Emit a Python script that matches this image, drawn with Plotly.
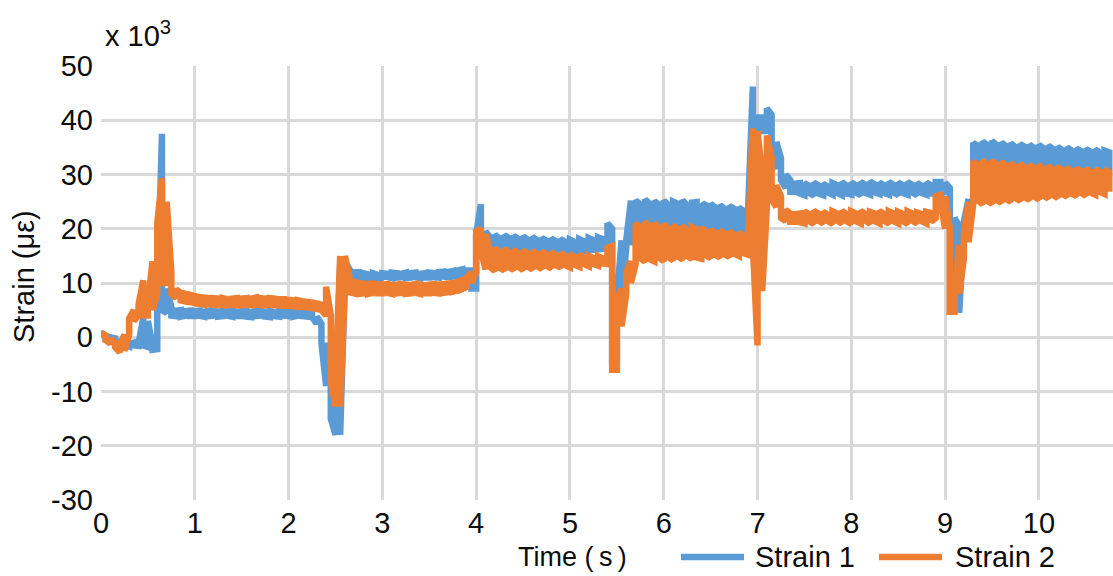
import plotly.graph_objects as go

# sample times (s), 0.05 s step; each sample holds the low/high of the noisy trace in that interval
time_s = [round(i * 0.05, 2) for i in range(216)]

# Strain 1 (x10^3 µε): envelope per sample
strain1_low = [
    0, -0.5, -0.8, -0.8, -1.4, -1.4, -1.7, -1.5, -1.6, -1.5,
    -1.8, -2.3, -2.2, 5, 4.5, 4.0, 3.9, 3.8, 4.0, 3.9,
    3.9, 4.0, 3.8, 3.9, 4.0, 3.8, 3.9, 4.0, 3.8, 3.9,
    3.9, 3.8, 3.7, 3.9, 4.0, 3.8, 3.7, 3.9, 3.8, 4.0,
    3.9, 3.8, 4.0, 3.9, 3.8, 3.7, 2.5, -1, -9, -15,
    -18, -18, 10.5, 10.8, 10.5, 10.3, 10.4, 10.5, 10.3, 10.4,
    11.0, 11.1, 10.9, 11.0, 11.1, 10.9, 11.0, 11.1, 10.9, 11.0,
    11.0, 11.1, 11.0, 11.2, 11.1, 11.2, 11.3, 11.2, 11.3, 9,
    9, 17, 17, 16.3, 16.5, 16.2, 16.4, 16.3, 16.4, 16.2,
    16.1, 16.0, 16.0, 15.9, 15.8, 15.9, 15.7, 15.8, 15.7, 15.8,
    15.7, 15.8, 15.8, 15.9, 16.0, 16.1, 16.2, 16.3, 16.4, -4.5,
    -4.5, 6.8, 16.5, 17, 21.5, 21.2, 21.0, 20.8, 20.7, 20.6,
    20.5, 20.4, 20.4, 20.3, 20.3, 20.2, 20.2, 20.1, 20.1, 20.0,
    20.0, 19.9, 19.9, 19.8, 19.8, 19.7, 19.7, 19.6, 19.6, 19.6,
    38.5, 38, 38, 34, 31, 29, 27.5, 26.8, 26.8, 26.5,
    26.2, 26.6, 26.1, 26.5, 26.2, 26.7, 26.3, 26.6, 26.2, 26.5,
    26.3, 26.7, 26.2, 26.6, 26.3, 26.7, 26.4, 26.6, 26.3, 26.7,
    26.2, 26.6, 26.3, 26.7, 26.2, 26.6, 26.3, 26.5, 26.5, 27,
    26.5, 22, 4.5, 4.5, 19.7, 21, 25, 32.0, 31.8, 32.0,
    31.9, 31.8, 31.8, 31.7, 31.7, 31.6, 31.6, 31.5, 31.5, 31.4,
    31.4, 31.3, 31.3, 31.2, 31.2, 31.1, 31.1, 31.0, 31.0, 30.9,
    30.9, 30.8, 30.8, 30.8, 30.7, 30.7,
]
strain1_high = [
    0.8, 0.3, 0, -0.2, -0.8, -0.8, -1.2, -1.0, -1.2, 3.5,
    3.0, -1.5, 6.5, 37.5, 9, 5.5, 4.9, 5.0, 4.8, 4.9,
    4.8, 4.9, 4.7, 4.9, 4.8, 4.7, 4.9, 4.8, 4.9, 4.7,
    4.8, 4.9, 4.6, 4.8, 4.9, 4.7, 4.8, 4.6, 4.8, 4.9,
    4.8, 4.7, 4.8, 4.7, 4.6, 4.5, 3.8, 2.5, -1, -8,
    -14, 13.5, 14, 12.5, 12.0, 12.0, 11.8, 11.6, 11.8, 11.5,
    11.8, 11.7, 11.9, 11.8, 11.7, 11.9, 11.8, 11.9, 11.7, 11.8,
    11.9, 11.8, 12.0, 12.1, 12.0, 12.2, 12.3, 12.5, 12.3, 12.3,
    19, 24.5, 19.5, 18.4, 18.9, 18.2, 18.8, 18.3, 18.7, 18.1,
    18.6, 18.0, 18.5, 17.9, 18.3, 17.8, 18.2, 17.7, 18.1, 17.6,
    18.0, 17.6, 18.1, 17.7, 18.3, 17.9, 18.4, 18.1, 21, 20,
    7, 17.9, 17.9, 25.2, 25.2, 24.5, 25.4, 24.6, 25.1, 24.4,
    25.2, 24.3, 25.0, 24.6, 25.3, 24.2, 24.8, 24.9, 24.1, 24.7,
    24.6, 23.9, 24.4, 23.6, 24.2, 23.7, 23.9, 23.3, 23.8, 46.2,
    40.5, 40.5, 42.2, 41, 36, 33, 30, 29, 28.3, 28.4,
    28.4, 27.9, 28.5, 28.0, 28.3, 27.8, 28.4, 28.0, 28.6, 27.9,
    28.5, 28.0, 28.6, 28.1, 28.7, 28.2, 28.5, 28.0, 28.6, 28.1,
    28.5, 28.0, 28.6, 28.1, 28.4, 27.9, 28.5, 28.0, 28.6, 28.6,
    28.5, 27.5, 22, 20.5, 21.3, 25.5, 35.8, 35.3, 36.1, 35.4,
    36.2, 35.4, 35.9, 35.2, 35.8, 35.0, 35.6, 35.1, 35.5, 34.9,
    35.5, 34.8, 35.3, 34.7, 35.1, 34.5, 35.0, 34.4, 34.8, 34.3,
    34.7, 34.2, 34.6, 34.0, 34.4, 34.1,
]

# Strain 2 (x10^3 µε): envelope per sample
strain2_low = [
    0, -0.5, -1.2, -1.8, -2.8, -2.5, 0.5, 3, 4, 4,
    4, 5, 8, 10, 10, 8, 7.2, 6.8, 6.6, 6.5,
    6.3, 6.2, 6.0, 6.1, 6.0, 5.9, 6.0, 5.9, 6.0, 5.9,
    5.9, 6.0, 5.9, 6.0, 6.0, 5.9, 6.0, 5.9, 5.9, 5.8,
    5.8, 5.7, 5.6, 5.6, 5.5, 5.4, 5.2, 5.0, 4, -8,
    -12.8, -12.8, 9, 8.3, 8.1, 8.0, 8.1, 8.0, 8.2, 8.1,
    8.1, 8.2, 8.0, 8.1, 8.2, 8.0, 8.1, 8.2, 8.0, 8.1,
    8.1, 8.2, 8.1, 8.2, 8.3, 8.4, 8.6, 8.9, 9.3, 10,
    12, 16, 12.5, 12.9, 12.2, 12.8, 12.3, 12.9, 12.4, 13.0,
    12.4, 13.0, 12.5, 13.1, 12.6, 13.2, 12.7, 13.3, 12.8, 13.3,
    12.9, 13.4, 13.0, 13.5, 13.1, 13.5, 13.2, 13.6, 13.5, -6,
    -6, 2, 8, 10, 13.5, 14.6, 13.9, 14.4, 14.0, 14.7,
    14.0, 14.8, 14.2, 14.9, 14.3, 15.0, 14.4, 14.7, 14.5, 15.1,
    14.6, 15.2, 14.7, 15.3, 14.8, 15.4, 15.0, 15.5, 15.2, 17,
    -1.5, 8.5, 24, 25.5, 24, 22, 21.4, 21.3, 21.3, 21.2,
    21.0, 21.4, 20.9, 21.5, 21.0, 21.4, 20.9, 21.5, 21.0, 21.4,
    20.9, 21.4, 21.0, 21.5, 20.9, 21.4, 21.0, 21.5, 20.9, 21.4,
    21.0, 21.4, 20.9, 21.5, 21.0, 21.4, 21.0, 21.3, 22, 25,
    20, 4.7, 4.7, 8, 14.5, 17.5, 24.6, 25.2, 24.5, 25.1,
    24.6, 25.3, 24.8, 25.5, 25.0, 25.7, 25.1, 25.8, 25.3, 26.0,
    25.4, 26.1, 25.6, 26.2, 25.7, 26.4, 25.9, 26.5, 26.0, 26.6,
    26.1, 26.7, 26.3, 26.8, 26.4, 26.8,
]
strain2_high = [
    0.8, 0.3, -0.3, -1.0, -1.5, 0.5, 3.5, 5, 6, 10.5,
    6.5, 14, 21, 29.3, 25, 12, 8.8, 8.2, 8.0, 7.8,
    7.6, 7.4, 7.3, 7.2, 7.2, 7.1, 7.2, 7.0, 7.1, 7.2,
    7.1, 7.2, 7.1, 7.3, 7.2, 7.1, 7.2, 7.1, 7.0, 7.0,
    6.9, 6.8, 6.8, 6.6, 6.5, 6.4, 6.2, 6.0, 9.3, 4,
    -8, 15, 15, 11, 10.2, 10.0, 9.9, 9.8, 9.9, 9.8,
    9.7, 9.8, 9.6, 9.7, 9.8, 9.7, 9.6, 9.8, 9.7, 9.6,
    9.7, 9.8, 9.7, 9.8, 9.9, 10.0, 10.2, 10.5, 11, 12,
    19.5, 20, 19, 15.8, 16.4, 15.7, 16.3, 15.6, 16.1, 15.5,
    16.0, 15.4, 15.9, 15.3, 15.8, 15.2, 15.7, 15.1, 15.5, 15.0,
    15.3, 14.8, 15.2, 14.7, 15.0, 14.6, 14.9, 14.5, 16.5, 16.8,
    7, 9, 12, 14, 21, 20.2, 21.3, 20.4, 21.1, 20.0,
    20.9, 19.8, 20.6, 20.0, 20.5, 19.6, 20.3, 19.9, 20.2, 19.4,
    19.8, 19.2, 19.7, 19.0, 19.5, 18.9, 19.3, 18.7, 18.8, 38.5,
    38, 30, 37.2, 33, 28, 26, 23.5, 22.8, 22.7, 22.8,
    23.2, 22.7, 23.3, 22.8, 23.1, 22.6, 23.2, 22.8, 23.3, 22.7,
    23.2, 22.8, 23.3, 22.7, 23.1, 22.8, 23.3, 22.7, 23.2, 22.8,
    23.1, 22.7, 23.2, 22.8, 23.0, 22.7, 23.1, 22.9, 26, 26.2,
    26, 20, 8, 17, 19, 25, 32.4, 31.7, 32.6, 31.8,
    32.6, 31.6, 32.4, 31.5, 32.1, 31.3, 32.0, 31.2, 31.8, 31.1,
    31.8, 30.9, 31.6, 30.8, 31.5, 30.7, 31.3, 30.6, 31.2, 30.5,
    31.1, 30.4, 31.0, 30.3, 30.9, 30.4,
]

x_ticks = list(range(0, 11))
y_tick_vals = [-30, -20, -10, 0, 10, 20, 30, 40, 50]
y_tick_text = ["-30", "-20", "-10", "0", "10", "20", "30", "40", "50"]
series_names = ["Strain 1", "Strain 2"]

FONT = "Liberation Sans, Arial, sans-serif"
BLUE = "#5B9BD5"
ORANGE = "#ED7D31"
GRID = "#d9d9d9"
TXT = "#0d0d0d"
FS = 29


def envelope_path(times, low, high):
    xs, ys = [], []
    for i, (t, lo, hi) in enumerate(zip(times, low, high)):
        xs += [t, t]
        ys += [lo, hi] if i % 2 == 0 else [hi, lo]
    return xs, ys


fig = go.Figure()
for name, lo, hi, col in [(series_names[0], strain1_low, strain1_high, BLUE),
                          (series_names[1], strain2_low, strain2_high, ORANGE)]:
    xs, ys = envelope_path(time_s, lo, hi)
    fig.add_trace(go.Scatter(x=xs, y=ys, mode="lines", name=name, showlegend=False,
                             line=dict(color=col, width=6.5, simplify=False)))

W = 1012.0
H = 434.0


def px(xp):
    return (xp - 101) / W


def py(yp):
    return (500 - yp) / H


leg_y = py(557)
fig.update_layout(
    width=1113, height=576,
    margin=dict(l=101, r=0, t=66, b=76),
    paper_bgcolor="white", plot_bgcolor="white",
    font=dict(family=FONT, size=FS, color=TXT),
    showlegend=False,
    shapes=[
        dict(type="line", xref="paper", yref="paper", x0=px(681), x1=px(744), y0=leg_y, y1=leg_y,
             line=dict(color=BLUE, width=6.5)),
        dict(type="line", xref="paper", yref="paper", x0=px(879), x1=px(942), y0=leg_y, y1=leg_y,
             line=dict(color=ORANGE, width=6.5)),
    ],
    annotations=[
        dict(text=series_names[0], x=px(753), y=leg_y, xref="paper", yref="paper",
             showarrow=False, xanchor="left", yanchor="middle", font=dict(size=FS)),
        dict(text=series_names[1], x=px(953), y=leg_y, xref="paper", yref="paper",
             showarrow=False, xanchor="left", yanchor="middle", font=dict(size=FS)),
        dict(text="Time (\u2009s\u2009)", x=px(572), y=leg_y, xref="paper", yref="paper",
             showarrow=False, xanchor="center", yanchor="middle", font=dict(size=27)),
        dict(text="Strain (με)", x=px(24), y=py(277), xref="paper", yref="paper",
             showarrow=False, textangle=-90, xanchor="center", yanchor="middle", font=dict(size=FS)),
        dict(text="x 10<sup>3</sup>", x=px(103), y=py(34), xref="paper", yref="paper",
             showarrow=False, xanchor="left", yanchor="middle", font=dict(size=FS)),
    ],
)
fig.update_xaxes(range=[0, 10.79], tickvals=x_ticks, showgrid=True, gridcolor=GRID, gridwidth=3,
                 zeroline=False, showline=False, ticks="", tickfont=dict(size=FS),
                 ticklabelstandoff=3)
fig.update_yaxes(range=[-30, 50], tickvals=y_tick_vals, ticktext=y_tick_text, showgrid=True,
                 gridcolor=GRID, gridwidth=3, zeroline=False, showline=False, ticks="",
                 tickfont=dict(size=FS), ticklabelstandoff=7)

fig.write_html("out.html")
